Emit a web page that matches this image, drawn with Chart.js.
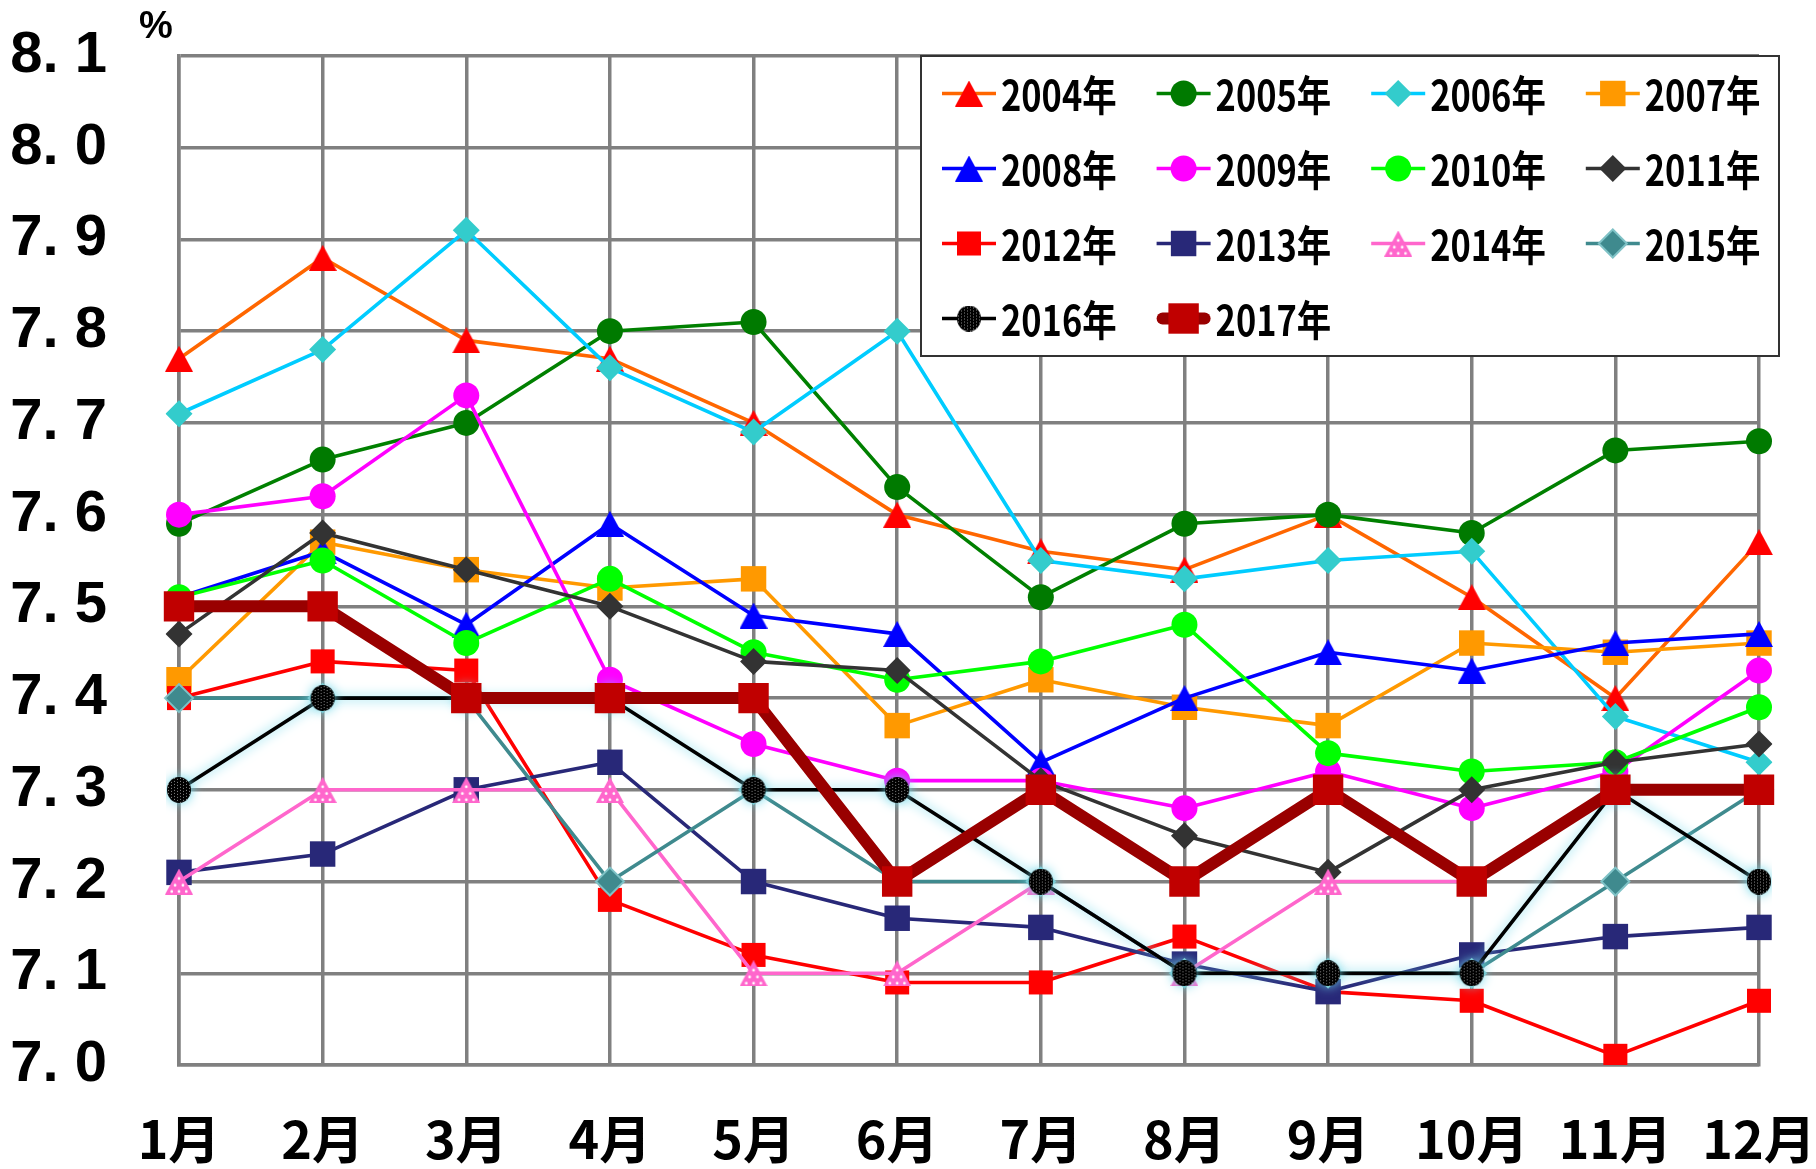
<!DOCTYPE html>
<html lang="ja">
<head>
<meta charset="utf-8">
<title>月別推移 2004年〜2017年</title>
<script src="https://cdn.jsdelivr.net/npm/chart.js@4.4.1/dist/chart.umd.min.js"></script>
<style>
  html, body { margin: 0; padding: 0; background: #ffffff; }
  #myChart { display: block; }
</style>
</head>
<body>
<canvas id="myChart" width="1816" height="1169"></canvas>
<script>
/*
  Index
  ---------- ---------- ---------- ---------- ----------
  • Data
  • Markers
  • Plugins
  • Chart
*/

/*
  • Data
  ---------- ---------- ---------- ---------- ----------
*/

const months = ['1月', '2月', '3月', '4月', '5月', '6月', '7月', '8月', '9月', '10月', '11月', '12月'];

const y2004 = [7.77, 7.88, 7.79, 7.77, 7.70, 7.60, 7.56, 7.54, 7.60, 7.51, 7.40, 7.57];
const y2005 = [7.59, 7.66, 7.70, 7.80, 7.81, 7.63, 7.51, 7.59, 7.60, 7.58, 7.67, 7.68];
const y2006 = [7.71, 7.78, 7.91, 7.76, 7.69, 7.80, 7.55, 7.53, 7.55, 7.56, 7.38, 7.33];
const y2007 = [7.42, 7.57, 7.54, 7.52, 7.53, 7.37, 7.42, 7.39, 7.37, 7.46, 7.45, 7.46];
const y2008 = [7.51, 7.56, 7.48, 7.59, 7.49, 7.47, 7.33, 7.40, 7.45, 7.43, 7.46, 7.47];
const y2009 = [7.60, 7.62, 7.73, 7.42, 7.35, 7.31, 7.31, 7.28, 7.32, 7.28, 7.32, 7.43];
const y2010 = [7.51, 7.55, 7.46, 7.53, 7.45, 7.42, 7.44, 7.48, 7.34, 7.32, 7.33, 7.39];
const y2011 = [7.47, 7.58, 7.54, 7.50, 7.44, 7.43, 7.31, 7.25, 7.21, 7.30, 7.33, 7.35];
const y2012 = [7.40, 7.44, 7.43, 7.18, 7.12, 7.09, 7.09, 7.14, 7.08, 7.07, 7.01, 7.07];
const y2013 = [7.21, 7.23, 7.30, 7.33, 7.20, 7.16, 7.15, 7.11, 7.08, 7.12, 7.14, 7.15];
const y2014 = [7.2, 7.3, 7.3, 7.3, 7.1, 7.1, 7.2, 7.1, 7.2, 7.2, null, null];
const y2015 = [7.4, 7.4, 7.4, 7.2, 7.3, 7.2, 7.2, 7.1, 7.1, 7.1, 7.2, 7.3];
const y2016 = [7.3, 7.4, 7.4, 7.4, 7.3, 7.3, 7.2, 7.1, 7.1, 7.1, 7.3, 7.2];
const y2017 = [7.5, 7.5, 7.4, 7.4, 7.4, 7.2, 7.3, 7.2, 7.3, 7.2, 7.3, 7.3];

const yMin = 7.0;
const yMax = 8.1;
const yStep = 0.1;

/*
  • Markers
  ---------- ---------- ---------- ---------- ----------
*/

function triangleMarker (color, dotted) {
  const w = 28, h = 26;
  const c = document.createElement('canvas');
  c.width = w; c.height = h;
  const g = c.getContext('2d');
  g.fillStyle = color;
  g.beginPath();
  g.moveTo(w / 2, 0);
  g.lineTo(w, h);
  g.lineTo(0, h);
  g.closePath();
  g.fill();
  if (dotted) {
    g.fillStyle = '#ffffff';
    [[0.5, 0.38], [0.36, 0.64], [0.64, 0.64], [0.24, 0.88], [0.5, 0.88], [0.76, 0.88]].forEach(function (p) {
      g.beginPath();
      g.arc(p[0] * w, p[1] * h, 1.4, 0, Math.PI * 2);
      g.fill();
    });
  }
  return c;
}

function dottedCircleMarker (color) {
  const d = 26;
  const c = document.createElement('canvas');
  c.width = d; c.height = d;
  const g = c.getContext('2d');
  g.fillStyle = color;
  g.beginPath();
  g.ellipse(d / 2, d / 2, d / 2 - 1, d / 2, 0, 0, Math.PI * 2);
  g.fill();
  g.save();
  g.clip();
  g.fillStyle = '#8a8a8a';
  for (let x = 2; x < d; x += 3) {
    for (let y = (x % 2) + 1; y < d; y += 3) {
      g.fillRect(x, y, 1, 1);
    }
  }
  g.restore();
  return c;
}

// one entry per year: data array + look
const series = [
  {label: '2004年', data: y2004, line: '#FF6600', fill: '#FF0000', style: triangleMarker('#FF0000'), radius: 14, width: 3.6},
  {label: '2005年', data: y2005, line: '#008000', fill: '#007A00', style: 'circle', radius: 13, width: 3.6},
  {label: '2006年', data: y2006, line: '#00CCFF', fill: '#33CCCC', style: 'rectRot', radius: 13.5, width: 3.6},
  {label: '2007年', data: y2007, line: '#FF9900', fill: '#FF9900', style: 'rect', radius: 18, width: 3.6},
  {label: '2008年', data: y2008, line: '#0000FF', fill: '#0000FF', style: triangleMarker('#0000FF'), radius: 14, width: 3.6},
  {label: '2009年', data: y2009, line: '#FF00FF', fill: '#FF00FF', style: 'circle', radius: 13, width: 3.6},
  {label: '2010年', data: y2010, line: '#00FF00', fill: '#00FF00', style: 'circle', radius: 13, width: 3.6},
  {label: '2011年', data: y2011, line: '#333333', fill: '#333333', style: 'rectRot', radius: 13.5, width: 3.6},
  {label: '2012年', data: y2012, line: '#FF0000', fill: '#FF0000', style: 'rect', radius: 17, width: 3.6},
  {label: '2013年', data: y2013, line: '#282878', fill: '#282878', style: 'rect', radius: 18, width: 3.6},
  {label: '2014年', data: y2014, line: '#FF66CC', fill: '#FF66CC', style: triangleMarker('#FF66CC', true), radius: 14, width: 3.6},
  {label: '2015年', data: y2015, line: '#3F8A8E', fill: '#3F8A8E', border: '#7FC2C6', style: 'rectRot', radius: 14, width: 3.6},
  {label: '2016年', data: y2016, line: '#000000', fill: '#000000', style: dottedCircleMarker('#000000'), radius: 13, width: 3.6, glow: true},
  {label: '2017年', data: y2017, line: '#990000', fill: '#C00000', style: 'rect', radius: 21.5, width: 12}
];

/*
  • Plugins
  ---------- ---------- ---------- ---------- ----------
*/

// soft cyan halo behind the 2016 line
const glowPlugin = {
  id: 'glow',
  beforeDatasetDraw (chart, args) {
    if (!chart.data.datasets[args.index].glow) return;
    const ctx = chart.ctx;
    ctx.save();
    ctx.shadowColor = 'rgba(110, 215, 232, 1)';
    ctx.shadowBlur = 12;
  },
  afterDatasetDraw (chart, args) {
    if (!chart.data.datasets[args.index].glow) return;
    chart.ctx.restore();
  }
};

function legendMarker (ctx, s, x, y) {
  const st = s.style;
  if (typeof st !== 'string') {
    ctx.drawImage(st, x - st.width / 2, y - st.height / 2);
    return;
  }
  const r = s.radius;
  ctx.fillStyle = s.fill;
  ctx.beginPath();
  if (st === 'circle') {
    ctx.arc(x, y, r, 0, Math.PI * 2);
  } else if (st === 'rect') {
    const h = r * Math.SQRT1_2;
    ctx.rect(x - h, y - h, h * 2, h * 2);
  } else {
    ctx.moveTo(x - r, y);
    ctx.lineTo(x, y - r);
    ctx.lineTo(x + r, y);
    ctx.lineTo(x, y + r);
    ctx.closePath();
  }
  ctx.fill();
  if (s.border) {
    ctx.strokeStyle = s.border;
    ctx.lineWidth = 2;
    ctx.stroke();
  }
}

// boxed 4-column legend in the upper right + the unit label
const boxLegendPlugin = {
  id: 'boxLegend',
  afterDraw (chart) {
    const ctx = chart.ctx;
    const area = chart.chartArea;

    ctx.save();
    ctx.fillStyle = '#000000';
    ctx.font = 'bold 38px "Liberation Sans", Arial, sans-serif';
    ctx.textAlign = 'center';
    ctx.textBaseline = 'middle';
    ctx.fillText('%', area.left - 23, area.top - 28);

    const box = {x: area.right - 838, y: area.top, w: 858, h: 300};
    ctx.fillStyle = '#ffffff';
    ctx.fillRect(box.x, box.y, box.w, box.h);
    ctx.strokeStyle = '#333333';
    ctx.lineWidth = 2;
    ctx.strokeRect(box.x, box.y, box.w, box.h);

    series.forEach(function (s, i) {
      const cx = box.x + 48 + (i % 4) * 214.6;
      const cy = box.y + 37.5 + Math.floor(i / 4) * 75;
      const thick = s.width > 6;

      ctx.strokeStyle = s.line;
      ctx.lineWidth = s.width;
      ctx.lineCap = thick ? 'round' : 'butt';
      ctx.beginPath();
      ctx.moveTo(cx - 27 + (thick ? 6 : 0), cy);
      ctx.lineTo(cx + 27 - (thick ? 6 : 0), cy);
      ctx.stroke();

      legendMarker(ctx, s, cx, cy);

      ctx.save();
      ctx.translate(cx + 32, cy + 2);
      ctx.scale(0.86, 1.05);
      ctx.fillStyle = '#000000';
      ctx.font = 'bold 40px "Noto Sans CJK JP", sans-serif';
      ctx.textAlign = 'left';
      ctx.textBaseline = 'middle';
      ctx.fillText(s.label, 0, 0);
      ctx.restore();
    });
    ctx.restore();
  }
};

/*
  • Chart
  ---------- ---------- ---------- ---------- ----------
*/

const datasets = series.map(function (s, i) {
  return {
    label: s.label,
    data: s.data,
    borderColor: s.line,
    borderWidth: s.width,
    borderJoinStyle: 'round',
    backgroundColor: s.fill,
    pointStyle: s.style,
    pointRadius: s.radius,
    pointBackgroundColor: s.fill,
    pointBorderColor: s.border || s.fill,
    pointBorderWidth: s.border ? 2 : 0,
    tension: 0,
    glow: !!s.glow,
    order: series.length - i // later years on top
  };
});

const gridColor = '#808080';

new Chart(document.getElementById('myChart').getContext('2d'), {
  type: 'line',
  data: {labels: months, datasets: datasets},
  plugins: [glowPlugin, boxLegendPlugin],
  options: {
    responsive: false,
    animation: false,
    layout: {padding: {top: 56, right: 57, left: 0, bottom: 0}},
    plugins: {
      legend: {display: false},
      tooltip: {enabled: false}
    },
    scales: {
      x: {
        offset: false,
        afterFit: function (scale) {
          scale.height = 104;
          scale.paddingLeft = 0;
          scale.paddingRight = 0;
        },
        grid: {color: gridColor, lineWidth: 3.5, drawTicks: false},
        border: {color: gridColor, width: 3.5},
        ticks: {
          autoSkip: false,
          maxRotation: 0,
          padding: 43,
          color: '#000000',
          font: {family: '"Noto Sans CJK JP", sans-serif', size: 52, weight: 'bold'}
        }
      },
      y: {
        min: yMin,
        max: yMax,
        afterFit: function (scale) {
          scale.width = 179;
          scale.paddingTop = 0;
          scale.paddingBottom = 0;
        },
        grid: {color: gridColor, lineWidth: 3.5, drawTicks: false},
        border: {color: gridColor, width: 3.5},
        ticks: {
          stepSize: yStep,
          padding: 72,
          color: '#000000',
          font: {family: '"Liberation Sans", Arial, sans-serif', size: 58, weight: 'bold'},
          callback: function (v) { return v.toFixed(1).replace('.', '. '); }
        }
      }
    }
  }
});
</script>
</body>
</html>
